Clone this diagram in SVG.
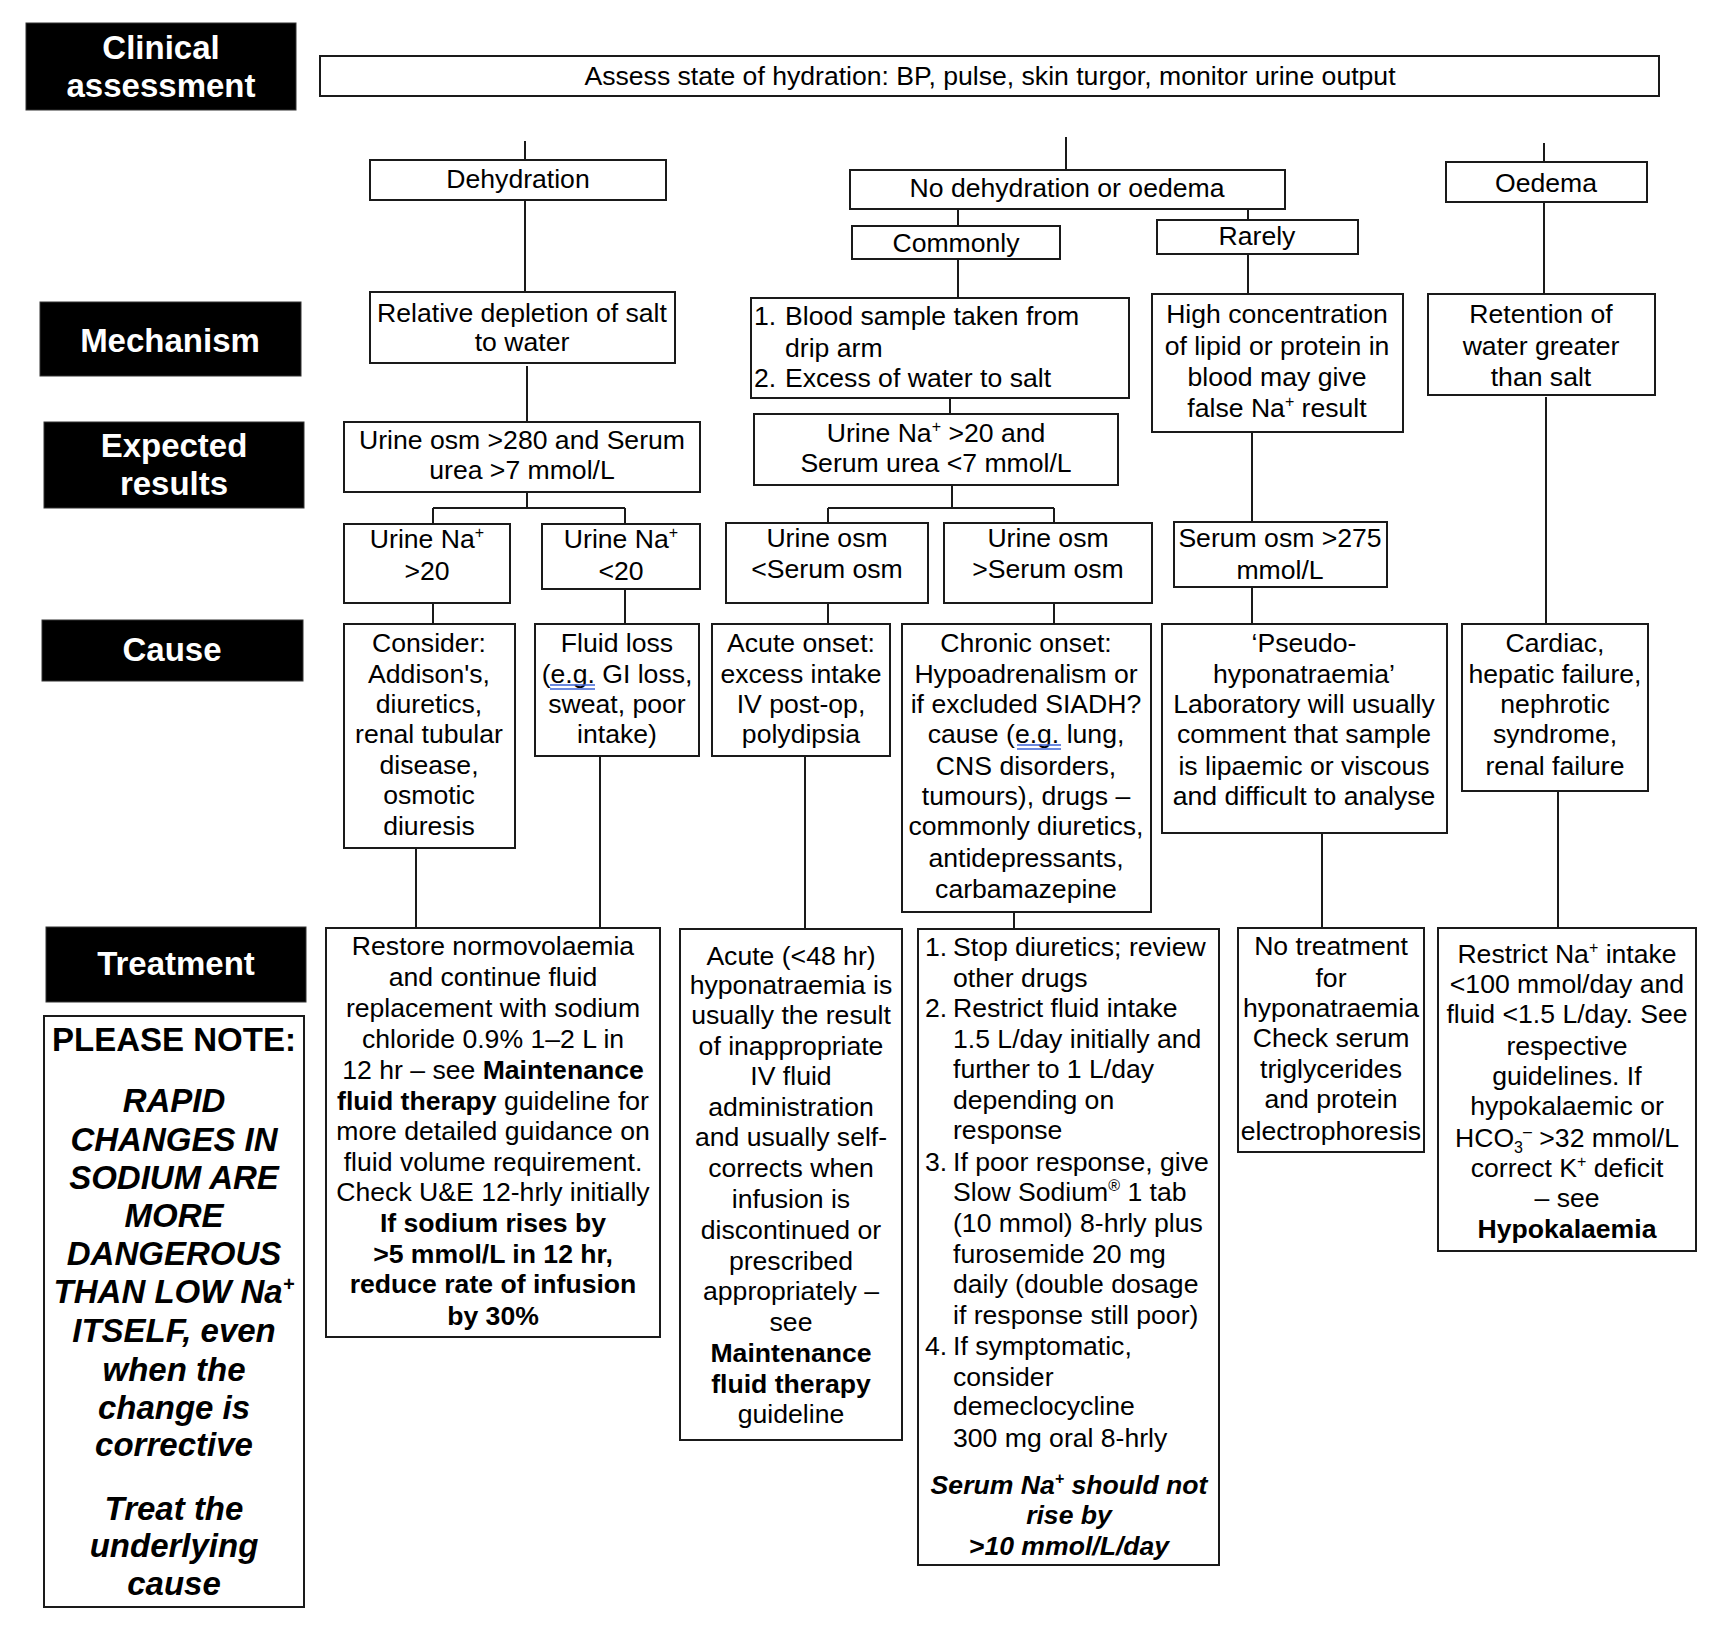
<svg xmlns="http://www.w3.org/2000/svg" width="1716" height="1636" viewBox="0 0 1716 1636">
<style>
.box{fill:#fff;stroke:#1a1a1a;stroke-width:2}
.hdr{fill:#000;stroke:#333;stroke-width:1}
text{font-family:"Liberation Sans",Arial,Helvetica,sans-serif;fill:#000}
.t{font-size:26.6px}
.c{text-anchor:middle}
.b{font-weight:bold}
.h{font-size:33px;font-weight:bold;fill:#fff;text-anchor:middle}
.n{font-size:33px;font-weight:bold;text-anchor:middle}
.i{font-style:italic}
.conn line{stroke:#1a1a1a;stroke-width:2}
.ul line{stroke:#3b62d6;stroke-width:1.5}
</style>
<rect width="1716" height="1636" fill="#fff"/>

<g id="connectors" class="conn">
<line x1="525" y1="141" x2="525" y2="160"/>
<line x1="525" y1="200" x2="525" y2="292"/>
<line x1="527" y1="366" x2="527" y2="422"/>
<line x1="527" y1="492" x2="527" y2="508"/>
<line x1="433" y1="508" x2="625" y2="508"/>
<line x1="433" y1="508" x2="433" y2="524"/>
<line x1="625" y1="508" x2="625" y2="524"/>
<line x1="433" y1="603" x2="433" y2="624"/>
<line x1="625" y1="589" x2="625" y2="624"/>
<line x1="1066" y1="137" x2="1066" y2="170"/>
<line x1="958" y1="209" x2="958" y2="226"/>
<line x1="958" y1="259" x2="958" y2="298"/>
<line x1="1248" y1="209" x2="1248" y2="220"/>
<line x1="1248" y1="254" x2="1248" y2="294"/>
<line x1="950" y1="398" x2="950" y2="414"/>
<line x1="952" y1="485" x2="952" y2="508"/>
<line x1="828" y1="508" x2="1054" y2="508"/>
<line x1="828" y1="508" x2="828" y2="523"/>
<line x1="1054" y1="508" x2="1054" y2="523"/>
<line x1="828" y1="603" x2="828" y2="624"/>
<line x1="1054" y1="603" x2="1054" y2="624"/>
<line x1="1252" y1="432" x2="1252" y2="522"/>
<line x1="1252" y1="587" x2="1252" y2="624"/>
<line x1="1544" y1="143" x2="1544" y2="162"/>
<line x1="1544" y1="202" x2="1544" y2="294"/>
<line x1="1546" y1="397" x2="1546" y2="624"/>
<line x1="416" y1="848" x2="416" y2="928"/>
<line x1="600" y1="756" x2="600" y2="928"/>
<line x1="805" y1="756" x2="805" y2="929"/>
<line x1="1014" y1="912" x2="1014" y2="929"/>
<line x1="1322" y1="833" x2="1322" y2="928"/>
<line x1="1558" y1="791" x2="1558" y2="928"/>
</g>

<g id="hdr-clinical">
<rect class="hdr" x="26" y="23" width="270" height="87"/>
<text class="h" x="161" y="59">Clinical</text>
<text class="h" x="161" y="97">assessment</text>
</g>
<g id="hdr-mechanism">
<rect class="hdr" x="40" y="302" width="261" height="74"/>
<text class="h" x="170" y="352">Mechanism</text>
</g>
<g id="hdr-expected">
<rect class="hdr" x="44" y="422" width="260" height="86"/>
<text class="h" x="174" y="457">Expected</text>
<text class="h" x="174" y="495">results</text>
</g>
<g id="hdr-cause">
<rect class="hdr" x="42" y="620" width="261" height="61"/>
<text class="h" x="172" y="661">Cause</text>
</g>
<g id="hdr-treatment">
<rect class="hdr" x="46" y="927" width="260" height="75"/>
<text class="h" x="176" y="975">Treatment</text>
</g>

<g id="assess">
<rect class="box" x="320" y="56" width="1339" height="40"/>
<text class="t c" x="990" y="85">Assess state of hydration: BP, pulse, skin turgor, monitor urine output</text>
</g>

<g id="dehydration">
<rect class="box" x="370" y="160" width="296" height="40"/>
<text class="t c" x="518" y="188">Dehydration</text>
</g>
<g id="nodehyd">
<rect class="box" x="850" y="170" width="435" height="39"/>
<text class="t c" x="1067" y="197">No dehydration or oedema</text>
</g>
<g id="commonly">
<rect class="box" x="852" y="226" width="208" height="33"/>
<text class="t c" x="956" y="252">Commonly</text>
</g>
<g id="rarely">
<rect class="box" x="1157" y="220" width="201" height="34"/>
<text class="t c" x="1257" y="245">Rarely</text>
</g>
<g id="oedema">
<rect class="box" x="1446" y="162" width="201" height="40"/>
<text class="t c" x="1546" y="192">Oedema</text>
</g>

<g id="mech-depletion">
<rect class="box" x="370" y="292" width="305" height="71"/>
<text class="t c" x="522" y="322">Relative depletion of salt</text>
<text class="t c" x="522" y="351">to water</text>
</g>
<g id="mech-blood">
<rect class="box" x="751" y="298" width="378" height="100"/>
<text class="t" x="754" y="325">1.</text><text class="t" x="785" y="325">Blood sample taken from</text>
<text class="t" x="785" y="357">drip arm</text>
<text class="t" x="754" y="387">2.</text><text class="t" x="785" y="387">Excess of water to salt</text>
</g>
<g id="mech-lipid">
<rect class="box" x="1152" y="294" width="251" height="138"/>
<text class="t c" x="1277" y="323">High concentration</text>
<text class="t c" x="1277" y="355">of lipid or protein in</text>
<text class="t c" x="1277" y="386">blood may give</text>
<text class="t c" x="1277" y="417">false Na<tspan font-size="16" dy="-10">+</tspan><tspan dy="10"> result</tspan></text>
</g>
<g id="mech-retention">
<rect class="box" x="1428" y="294" width="227" height="101"/>
<text class="t c" x="1541" y="323">Retention of</text>
<text class="t c" x="1541" y="355">water greater</text>
<text class="t c" x="1541" y="386">than salt</text>
</g>

<g id="exp-dehyd">
<rect class="box" x="344" y="422" width="356" height="70"/>
<text class="t c" x="522" y="449">Urine osm &gt;280 and Serum</text>
<text class="t c" x="522" y="479">urea &gt;7 mmol/L</text>
</g>
<g id="exp-nodehyd">
<rect class="box" x="754" y="414" width="364" height="71"/>
<text class="t c" x="936" y="442">Urine Na<tspan font-size="16" dy="-10">+</tspan><tspan dy="10"> &gt;20 and</tspan></text>
<text class="t c" x="936" y="472">Serum urea &lt;7 mmol/L</text>
</g>

<g id="una-high">
<rect class="box" x="344" y="524" width="166" height="79"/>
<text class="t c" x="427" y="548">Urine Na<tspan font-size="16" dy="-10">+</tspan></text>
<text class="t c" x="427" y="580">&gt;20</text>
</g>
<g id="una-low">
<rect class="box" x="542" y="524" width="158" height="65"/>
<text class="t c" x="621" y="548">Urine Na<tspan font-size="16" dy="-10">+</tspan></text>
<text class="t c" x="621" y="580">&lt;20</text>
</g>
<g id="uosm-low">
<rect class="box" x="726" y="523" width="202" height="80"/>
<text class="t c" x="827" y="547">Urine osm</text>
<text class="t c" x="827" y="578">&lt;Serum osm</text>
</g>
<g id="uosm-high">
<rect class="box" x="944" y="523" width="208" height="80"/>
<text class="t c" x="1048" y="547">Urine osm</text>
<text class="t c" x="1048" y="578">&gt;Serum osm</text>
</g>
<g id="sosm">
<rect class="box" x="1174" y="522" width="213" height="65"/>
<text class="t c" x="1280" y="547">Serum osm &gt;275</text>
<text class="t c" x="1280" y="579">mmol/L</text>
</g>

<g id="cause-consider">
<rect class="box" x="344" y="624" width="171" height="224"/>
<text class="t c" x="429" y="652">Consider:</text>
<text class="t c" x="429" y="683">Addison's,</text>
<text class="t c" x="429" y="713">diuretics,</text>
<text class="t c" x="429" y="743">renal tubular</text>
<text class="t c" x="429" y="774">disease,</text>
<text class="t c" x="429" y="804">osmotic</text>
<text class="t c" x="429" y="835">diuresis</text>
</g>
<g id="cause-fluidloss">
<rect class="box" x="535" y="624" width="164" height="132"/>
<text class="t c" x="617" y="652">Fluid loss</text>
<text class="t c" x="617" y="683">(e.g. GI loss,</text>
<text class="t c" x="617" y="713">sweat, poor</text>
<text class="t c" x="617" y="743">intake)</text>
<g class="ul"><line x1="550" y1="685" x2="595" y2="685"/><line x1="550" y1="689" x2="595" y2="689"/></g>
</g>
<g id="cause-acute">
<rect class="box" x="712" y="624" width="178" height="132"/>
<text class="t c" x="801" y="652">Acute onset:</text>
<text class="t c" x="801" y="683">excess intake</text>
<text class="t c" x="801" y="713">IV post-op,</text>
<text class="t c" x="801" y="743">polydipsia</text>
</g>
<g id="cause-chronic">
<rect class="box" x="902" y="624" width="249" height="288"/>
<text class="t c" x="1026" y="652">Chronic onset:</text>
<text class="t c" x="1026" y="683">Hypoadrenalism or</text>
<text class="t c" x="1026" y="713">if excluded SIADH?</text>
<text class="t c" x="1026" y="743">cause (e.g. lung,</text>
<text class="t c" x="1026" y="775">CNS disorders,</text>
<text class="t c" x="1026" y="805">tumours), drugs –</text>
<text class="t c" x="1026" y="835">commonly diuretics,</text>
<text class="t c" x="1026" y="867">antidepressants,</text>
<text class="t c" x="1026" y="898">carbamazepine</text>
<g class="ul"><line x1="1017" y1="745" x2="1061" y2="745"/><line x1="1017" y1="749" x2="1061" y2="749"/></g>
</g>
<g id="cause-pseudo">
<rect class="box" x="1162" y="624" width="285" height="209"/>
<text class="t c" x="1304" y="652">‘Pseudo-</text>
<text class="t c" x="1304" y="683">hyponatraemia’</text>
<text class="t c" x="1304" y="713">Laboratory will usually</text>
<text class="t c" x="1304" y="743">comment that sample</text>
<text class="t c" x="1304" y="775">is lipaemic or viscous</text>
<text class="t c" x="1304" y="805">and difficult to analyse</text>
</g>
<g id="cause-cardiac">
<rect class="box" x="1462" y="624" width="186" height="167"/>
<text class="t c" x="1555" y="652">Cardiac,</text>
<text class="t c" x="1555" y="683">hepatic failure,</text>
<text class="t c" x="1555" y="713">nephrotic</text>
<text class="t c" x="1555" y="743">syndrome,</text>
<text class="t c" x="1555" y="775">renal failure</text>
</g>

<g id="note">
<rect class="box" x="44" y="1016" width="260" height="591"/>
<text class="n" x="174" y="1051">PLEASE NOTE:</text>
<text class="n i" x="174" y="1112">RAPID</text>
<text class="n i" x="174" y="1151">CHANGES IN</text>
<text class="n i" x="174" y="1189">SODIUM ARE</text>
<text class="n i" x="174" y="1227">MORE</text>
<text class="n i" x="174" y="1265">DANGEROUS</text>
<text class="n i" x="174" y="1303">THAN LOW Na<tspan font-size="20" dy="-12">+</tspan></text>
<text class="n i" x="174" y="1342">ITSELF, even</text>
<text class="n i" x="174" y="1381">when the</text>
<text class="n i" x="174" y="1419">change is</text>
<text class="n i" x="174" y="1456">corrective</text>
<text class="n i" x="174" y="1520">Treat the</text>
<text class="n i" x="174" y="1557">underlying</text>
<text class="n i" x="174" y="1595">cause</text>
</g>

<g id="tx-restore">
<rect class="box" x="326" y="928" width="334" height="409"/>
<text class="t c" x="493" y="955">Restore normovolaemia</text>
<text class="t c" x="493" y="986">and continue fluid</text>
<text class="t c" x="493" y="1017">replacement with sodium</text>
<text class="t c" x="493" y="1048">chloride 0.9% 1–2 L in</text>
<text class="t c" x="493" y="1079">12 hr – see <tspan class="b">Maintenance</tspan></text>
<text class="t c" x="493" y="1110"><tspan class="b">fluid therapy</tspan> guideline for</text>
<text class="t c" x="493" y="1140">more detailed guidance on</text>
<text class="t c" x="493" y="1171">fluid volume requirement.</text>
<text class="t c" x="493" y="1201">Check U&amp;E 12-hrly initially</text>
<text class="t c b" x="493" y="1232">If sodium rises by</text>
<text class="t c b" x="493" y="1263">&gt;5 mmol/L in 12 hr,</text>
<text class="t c b" x="493" y="1293">reduce rate of infusion</text>
<text class="t c b" x="493" y="1325">by 30%</text>
</g>

<g id="tx-acute">
<rect class="box" x="680" y="929" width="222" height="511"/>
<text class="t c" x="791" y="965">Acute (&lt;48 hr)</text>
<text class="t c" x="791" y="994">hyponatraemia is</text>
<text class="t c" x="791" y="1024">usually the result</text>
<text class="t c" x="791" y="1055">of inappropriate</text>
<text class="t c" x="791" y="1085">IV fluid</text>
<text class="t c" x="791" y="1116">administration</text>
<text class="t c" x="791" y="1146">and usually self-</text>
<text class="t c" x="791" y="1177">corrects when</text>
<text class="t c" x="791" y="1208">infusion is</text>
<text class="t c" x="791" y="1239">discontinued or</text>
<text class="t c" x="791" y="1270">prescribed</text>
<text class="t c" x="791" y="1300">appropriately –</text>
<text class="t c" x="791" y="1331">see</text>
<text class="t c b" x="791" y="1362">Maintenance</text>
<text class="t c b" x="791" y="1393">fluid therapy</text>
<text class="t c" x="791" y="1423">guideline</text>
</g>

<g id="tx-chronic">
<rect class="box" x="918" y="929" width="301" height="636"/>
<text class="t" x="925" y="956">1.</text><text class="t" x="953" y="956">Stop diuretics; review</text>
<text class="t" x="953" y="987">other drugs</text>
<text class="t" x="925" y="1017">2.</text><text class="t" x="953" y="1017">Restrict fluid intake</text>
<text class="t" x="953" y="1048">1.5 L/day initially and</text>
<text class="t" x="953" y="1078">further to 1 L/day</text>
<text class="t" x="953" y="1109">depending on</text>
<text class="t" x="953" y="1139">response</text>
<text class="t" x="925" y="1171">3.</text><text class="t" x="953" y="1171">If poor response, give</text>
<text class="t" x="953" y="1201">Slow Sodium<tspan font-size="16" dy="-10">®</tspan><tspan dy="10"> 1 tab</tspan></text>
<text class="t" x="953" y="1232">(10 mmol) 8-hrly plus</text>
<text class="t" x="953" y="1263">furosemide 20 mg</text>
<text class="t" x="953" y="1293">daily (double dosage</text>
<text class="t" x="953" y="1324">if response still poor)</text>
<text class="t" x="925" y="1355">4.</text><text class="t" x="953" y="1355">If symptomatic,</text>
<text class="t" x="953" y="1386">consider</text>
<text class="t" x="953" y="1415">demeclocycline</text>
<text class="t" x="953" y="1447">300 mg oral 8-hrly</text>
<text class="t c b i" x="1069" y="1494">Serum Na<tspan font-size="16" dy="-10">+</tspan><tspan dy="10"> should not</tspan></text>
<text class="t c b i" x="1069" y="1524">rise by</text>
<text class="t c b i" x="1069" y="1555">&gt;10 mmol/L/day</text>
</g>

<g id="tx-none">
<rect class="box" x="1238" y="928" width="186" height="224"/>
<text class="t c" x="1331" y="955">No treatment</text>
<text class="t c" x="1331" y="987">for</text>
<text class="t c" x="1331" y="1017">hyponatraemia</text>
<text class="t c" x="1331" y="1047">Check serum</text>
<text class="t c" x="1331" y="1078">triglycerides</text>
<text class="t c" x="1331" y="1108">and protein</text>
<text class="t c" x="1331" y="1140">electrophoresis</text>
</g>

<g id="tx-restrict">
<rect class="box" x="1438" y="928" width="258" height="323"/>
<text class="t c" x="1567" y="963">Restrict Na<tspan font-size="16" dy="-10">+</tspan><tspan dy="10"> intake</tspan></text>
<text class="t c" x="1567" y="993">&lt;100 mmol/day and</text>
<text class="t c" x="1567" y="1023">fluid &lt;1.5 L/day. See</text>
<text class="t c" x="1567" y="1055">respective</text>
<text class="t c" x="1567" y="1085">guidelines. If</text>
<text class="t c" x="1567" y="1115">hypokalaemic or</text>
<text class="t c" x="1567" y="1147">HCO<tspan font-size="16" dy="6">3</tspan><tspan font-size="16" dy="-16">–</tspan><tspan dy="10"> &gt;32 mmol/L</tspan></text>
<text class="t c" x="1567" y="1177">correct K<tspan font-size="16" dy="-10">+</tspan><tspan dy="10"> deficit</tspan></text>
<text class="t c" x="1567" y="1207">– see</text>
<text class="t c b" x="1567" y="1238">Hypokalaemia</text>
</g>
</svg>
